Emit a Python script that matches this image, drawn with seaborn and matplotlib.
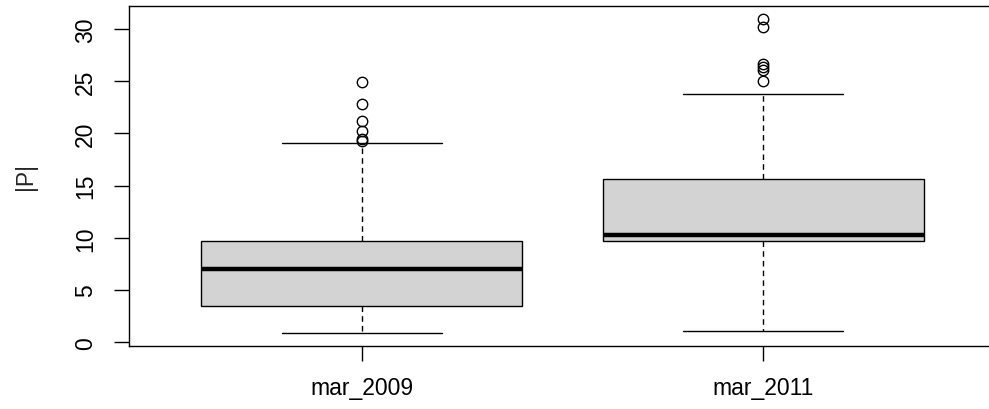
import pandas as pd
import matplotlib.pyplot as plt
import seaborn as sns

# Box summaries (R base boxplot)
periods = ["mar_2009", "mar_2011"]
whisker_low = [0.9, 1.05]
q1 = [3.45, 9.75]
median = [7.0, 10.25]
q3 = [9.75, 15.6]
whisker_high = [19.1, 23.8]
outliers_2009 = [19.3, 19.5, 20.2, 21.2, 22.8, 24.9]
outliers_2011 = [25.0, 26.1, 26.35, 26.6, 30.2, 31.0]
outliers = [outliers_2009, outliers_2011]

# Expand each summary into a sample whose quartiles/whiskers reproduce it
rows = []
for i, p in enumerate(periods):
    k = len(outliers[i]) + 1
    vals = ([whisker_low[i]] + [q1[i]] * k + [median[i]] * k + [q3[i]] * k
            + [whisker_high[i]] + outliers[i])
    rows += [(p, v) for v in vals]
df = pd.DataFrame(rows, columns=["period", "P"])

sns.set_style("white")
plt.rcParams["font.family"] = ["Liberation Sans", "DejaVu Sans"]

fig = plt.figure(figsize=(9.89, 4.10), dpi=100)
ax = fig.add_axes([129 / 989, 63 / 410, 867 / 989, 340 / 410])

sns.boxplot(data=df, x="period", y="P", ax=ax, order=periods,
            color="#D3D3D3", saturation=1, width=0.8, whis=1.5,
            linecolor="black", linewidth=1.0,
            medianprops=dict(color="black", linewidth=3.2),
            whiskerprops=dict(linestyle=(0, (4, 3)), linewidth=1.0),
            capprops=dict(linewidth=1.0),
            flierprops=dict(marker="o", markersize=7.5, markerfacecolor="none",
                            markeredgecolor="black", markeredgewidth=1.0))

ax.set_xlim(-0.58, 1.58)
ax.set_ylim(-0.35, 32.2)
ax.set_yticks([0, 5, 10, 15, 20, 25, 30])
ax.set_xlabel("")
ax.set_ylabel("|P|", fontsize=16.5)
ax.yaxis.set_label_coords(-0.106, 0.5)

for s in ax.spines.values():
    s.set_color("black")
    s.set_linewidth(1.0)

ax.tick_params(axis="both", which="major", length=10.8, width=1.0, color="black",
               labelsize=16.5, labelcolor="black", direction="out")
ax.tick_params(axis="x", pad=11)
ax.tick_params(axis="y", pad=12)
ax.tick_params(left=True, bottom=True)
for lab in ax.get_yticklabels():
    lab.set_rotation(90)
    lab.set_va("center")

fig.savefig("out.png", dpi=100)
